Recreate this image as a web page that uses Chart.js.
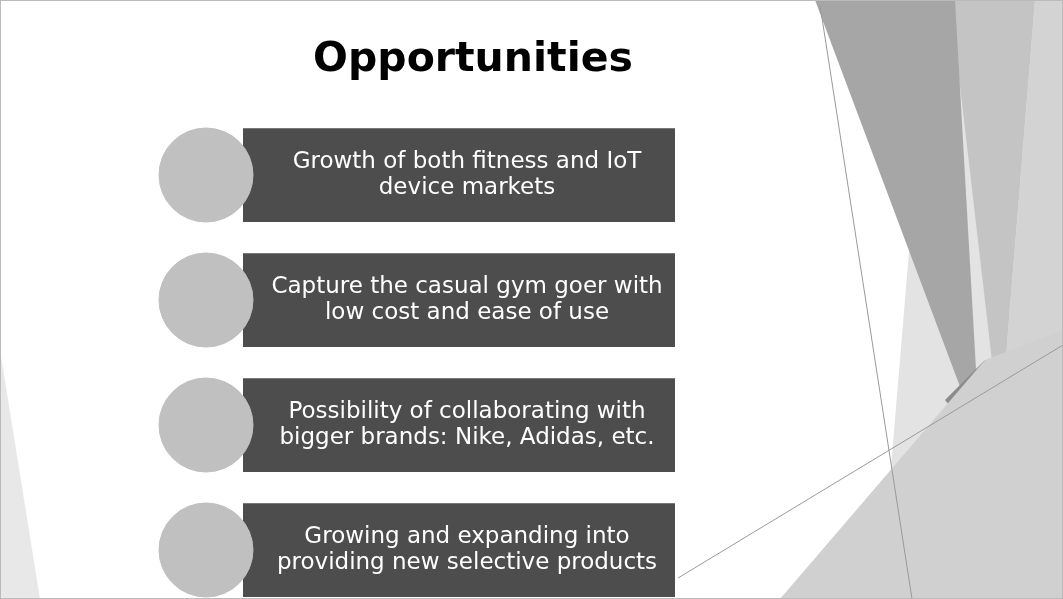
<!DOCTYPE html>
<html>
<head>
<meta charset="utf-8">
<script src="https://cdn.jsdelivr.net/npm/chart.js@4"></script>
<style>
  html, body { margin: 0; padding: 0; background: #fff; overflow: hidden; }
  #wrap { position: relative; width: 1063px; height: 599px; overflow: hidden; }
  #chart { position: absolute; left: 0; top: 0; }
  #title { position: absolute; left: 0; width: 946px; top: 33px; text-align: center;
    font: bold 41px "DejaVu Sans", sans-serif; color: #000; }
</style>
</head>
<body>
<div id="wrap">
  <canvas id="chart" width="1063" height="625"></canvas>
  <div id="title">Opportunities</div>
</div>
<script>
// ===== DATA =====
const items = [
    ['Growth of both fitness and IoT', 'device markets'],
    ['Capture the casual gym goer with', 'low cost and ease of use'],
    ['Possibility of collaborating with', 'bigger brands: Nike, Adidas, etc.'],
    ['Growing and expanding into', 'providing new selective products']
];
const itemKeys = ['o1', 'o2', 'o3', 'o4'];
const boxRanges = [[243, 675], [243, 675], [243, 675], [243, 675]];
const circleValues = [206, 206, 206, 206];

// background decoration of the slide theme
const backgroundPlugin = {
    id: 'slideBackground',
    beforeDraw(chart) {
        const c = chart.ctx;
        c.save();
        c.fillStyle = '#fff';
        c.fillRect(0, 0, chart.width, chart.height);
        const polys = [
            ['#e3e3e3', [[930, 0], [1063, 0], [1063, 599], [880, 599]]],
            ['#c4c4c4', [[950, 0], [1035, 0], [1000, 430]]],
            ['#a6a6a6', [[815, 0], [955, 0], [980, 440]]],
            ['#d3d3d3', [[1035, 0], [1063, 0], [1063, 330], [1000, 430]]],
            ['#8c8c8c', [[945, 400], [985, 360], [978, 440]]],
            ['#d0d0d0', [[780, 599], [985, 360], [1063, 330], [1063, 599]]],
            ['#e8e8e8', [[0, 350], [40, 599], [0, 599]]]
        ];
        polys.forEach(([col, pts]) => {
            c.fillStyle = col;
            c.beginPath();
            pts.forEach((p, i) => i ? c.lineTo(p[0], p[1]) : c.moveTo(p[0], p[1]));
            c.closePath();
            c.fill();
        });
        c.strokeStyle = '#9a9a9a';
        c.lineWidth = 1;
        c.beginPath();
        c.moveTo(820, 5); c.lineTo(912, 599);
        c.moveTo(678, 578); c.lineTo(1063, 345);
        c.stroke();
        c.strokeStyle = '#bbb';
        c.strokeRect(0.5, 0.5, 1062, 598);
        c.restore();
    }
};

// chevron notch on the left of each box and the white text inside
const labelPlugin = {
    id: 'boxLabels',
    afterDatasetsDraw(chart) {
        const c = chart.ctx;
        const meta = chart.getDatasetMeta(0);
        c.save();
        meta.data.forEach((bar, i) => {
            const left = Math.min(bar.x, bar.base);
            const right = Math.max(bar.x, bar.base);
            const cx = (left + right) / 2 + 8;
            c.fillStyle = '#4d4d4d';
            c.fillText('', 0, 0);
            c.fillStyle = '#fff';
            c.font = '23px "DejaVu Sans", sans-serif';
            c.textAlign = 'center';
            c.textBaseline = 'middle';
            c.fillText(items[i][0], cx, bar.y - 13);
            c.fillText(items[i][1], cx, bar.y + 13);
        });
        c.restore();
    }
};

new Chart(document.getElementById('chart'), {
    type: 'bar',
    data: {
        labels: itemKeys,
        datasets: [{
            data: boxRanges,
            backgroundColor: '#4d4d4d',
            barPercentage: 0.75,
            categoryPercentage: 1,
            order: 2
        }, {
            type: 'line',
            data: circleValues,
            showLine: false,
            pointRadius: 47,
            pointHoverRadius: 47,
            pointBackgroundColor: '#c0c0c0',
            pointBorderColor: '#c0c0c0',
            order: 1
        }]
    },
    options: {
        indexAxis: 'y',
        responsive: false,
        animation: false,
        layout: { autoPadding: false, padding: { top: 112.5, bottom: 12.5, left: 0, right: 0 } },
        plugins: { legend: { display: false }, tooltip: { enabled: false } },
        scales: {
            x: { type: 'linear', min: 0, max: 1063, display: false },
            y: { display: false }
        }
    },
    plugins: [backgroundPlugin, labelPlugin]
});
</script>
</body>
</html>
